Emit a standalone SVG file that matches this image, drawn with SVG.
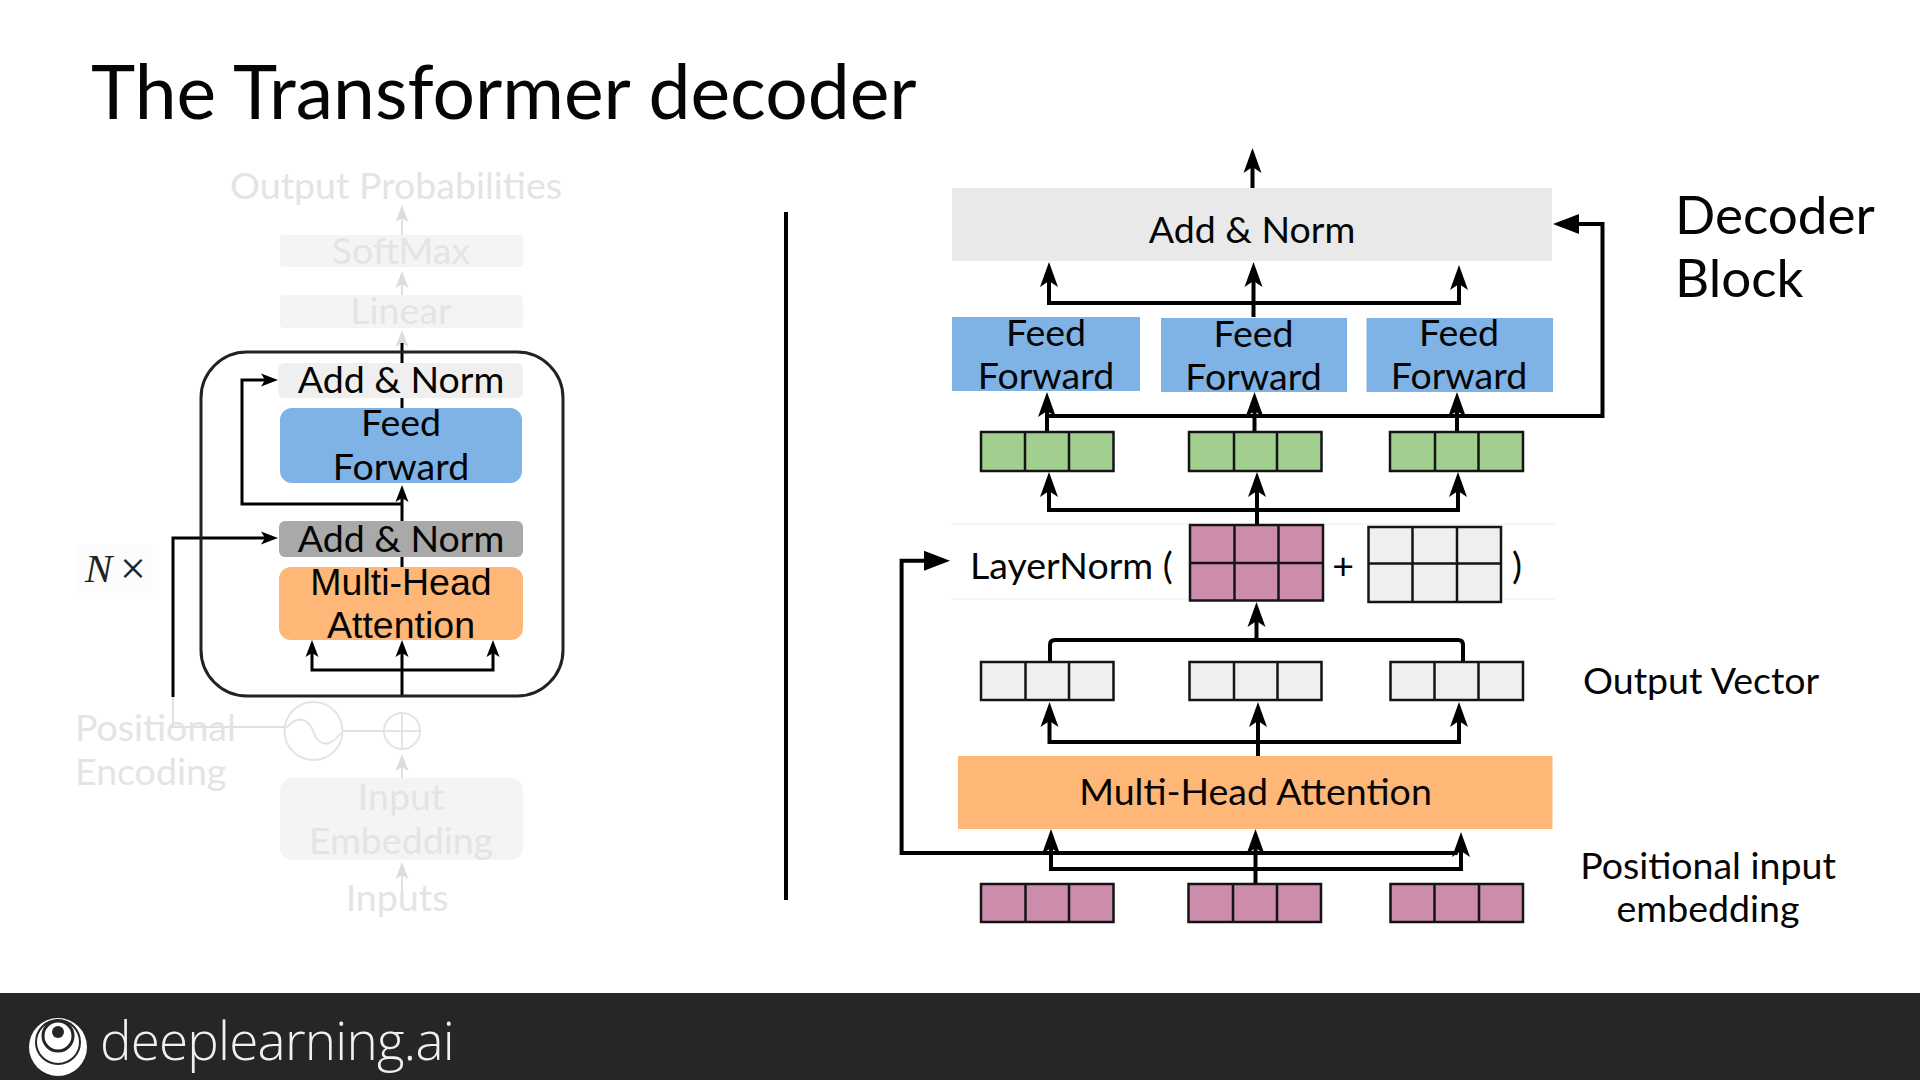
<svg xmlns="http://www.w3.org/2000/svg" width="1920" height="1080" viewBox="0 0 1920 1080">
<defs>
<marker id="ab" markerUnits="userSpaceOnUse" markerWidth="26" markerHeight="20" refX="16" refY="10" orient="auto"><path d="M0,1 L25,10 L0,19 L6,10z" fill="#000"/></marker>
<marker id="as" markerUnits="userSpaceOnUse" markerWidth="18" markerHeight="16" refX="11" refY="8" orient="auto"><path d="M0,1.5 L17,8 L0,14.5 L4,8z" fill="#000"/></marker>
<marker id="ag" markerUnits="userSpaceOnUse" markerWidth="18" markerHeight="16" refX="11" refY="8" orient="auto"><path d="M0,1.5 L17,8 L0,14.5 L4,8z" fill="#dcdcdc"/></marker>
<marker id="af" markerUnits="userSpaceOnUse" markerWidth="28" markerHeight="22" refX="8" refY="11" orient="auto"><path d="M0,1 L26,11 L0,21z" fill="#000"/></marker>
</defs>
<style>
text{font-family:Lato,"Liberation Sans",sans-serif;fill:#050505}
.m{text-anchor:middle}
.s{font-size:37.500px}
.ar{font-family:"Liberation Sans",Arial,sans-serif}
.f text{fill:#e4e4e4}
.c path{fill:none;stroke:#000}
.k path{stroke-width:3;marker-end:url(#as)}
.g path{stroke:#e0e0e0;stroke-width:2}
.g .a{marker-end:url(#ag)}
.r path{stroke-width:4}
.r .a{marker-end:url(#ab)}
.r .t{marker-end:url(#af)}
.grid{stroke:#141414;stroke-width:2.500}
.grn{fill:#a1cf8f}.pnk{fill:#cc8dad}.gry{fill:#efefef}
.ff{fill:#7fb3e6}.mh{fill:#ffb777}
</style>
<rect width="1920" height="1080" fill="#fff"/>
<g id="connectors">
<g class="c g">
<path class="a" d="M402 238V211"/>
<path class="a" d="M402 296V277"/>
<path class="a" d="M402 350V336"/>
<path d="M173 697V727H285M342 731H384"/>
<path class="a" d="M402 778V760"/>
<path class="a" d="M402 895V868"/>
</g>
<g class="c k">
<path style="marker-end:none" d="M402 363V343"/>
<path style="marker-end:none" d="M402 398V408"/>
<path d="M402 521V491"/>
<path d="M402 504H242V380H272"/>
<path style="marker-end:none" d="M402 556V567"/>
<path d="M173 697V538H272"/>
<path d="M402 697V646"/>
<path d="M402 670H312V646"/>
<path d="M402 670H493V646"/>
</g>
<g class="c r">
<path class="a" d="M1252.500 189V157"/>
<path class="a" d="M1253.500 317V271"/>
<path class="a" d="M1253.500 303H1049V271"/>
<path class="a" d="M1253.500 303H1459V274"/>
<path class="a" d="M1047 432V401"/>
<path class="a" d="M1254.500 432V401"/>
<path class="a" d="M1457 432V401"/>
<path class="t" d="M1047 416H1602.500V224H1571"/>
<path class="a" d="M1257 525V481"/>
<path class="a" d="M1257 510H1049V481"/>
<path class="a" d="M1257 510H1458V481"/>
<path class="a" d="M1256.500 640V611"/>
<path d="M1050 662V645Q1050 640 1055 640H1458Q1463 640 1463 645V662" style="marker-end:none"/>
<path class="a" d="M1258 756V711"/>
<path class="a" d="M1258 742H1049.500V711"/>
<path class="a" d="M1258 742H1459V711"/>
<path class="a" d="M1255.500 883V838"/>
<path class="a" d="M1255.500 869H1051V838"/>
<path class="a" d="M1255.500 869H1461V841"/>
<path class="t" d="M1457.600 853H901.600V560.700H932"/>
</g>
</g>
<g id="title"><text x="91" y="119" font-size="75">The Transformer decoder</text></g>
<rect id="divider" x="784" y="212" width="4" height="688" fill="#000"/>
<g id="output-probabilities" class="f"><text class="m s" x="396" y="199">Output Probabilities</text></g>
<g id="softmax" class="f"><rect x="280" y="235" width="243" height="32" rx="4" fill="#f4f4f4"/><text class="m s" x="401" y="264">SoftMax</text></g>
<g id="linear" class="f"><rect x="280" y="295" width="243" height="33" rx="4" fill="#f4f4f4"/><text class="m s" x="401" y="324">Linear</text></g>
<g id="decoder-frame"><rect x="201" y="352" width="362" height="344" rx="46" fill="none" stroke="#222" stroke-width="3"/></g>
<g id="add-norm-top"><rect x="278" y="363" width="245" height="35" rx="6" fill="#efefef"/><text class="m s" x="401" y="393">Add &amp; Norm</text></g>
<g id="feed-forward-left"><rect x="280" y="408" width="242" height="75" rx="12" class="ff"/><text class="m s" x="401" y="436">Feed</text><text class="m s" x="401" y="480">Forward</text></g>
<g id="add-norm-mid"><rect x="279" y="521" width="244" height="36" rx="6" fill="#a9a9a9"/><text class="m s" x="401" y="552">Add &amp; Norm</text></g>
<g id="multi-head-left"><rect x="279" y="567" width="244" height="73" rx="12" class="mh"/><text class="m s ar" x="401" y="595">Multi-Head</text><text class="m s ar" x="401" y="638">Attention</text></g>
<g id="n-times"><rect x="77" y="545" width="76" height="48" fill="#fcfcfc"/><text x="85" y="582" font-size="41" style="font-family:'Liberation Serif',serif;font-style:italic;fill:#222">N</text><text x="120" y="584" font-size="46" style="font-family:'Liberation Serif',serif;fill:#222">×</text></g>
<g id="positional-encoding" class="f"><text class="s" x="75" y="741">Positional</text><text class="s" x="75" y="785">Encoding</text></g>
<g id="sine"><circle cx="313.500" cy="731" r="29" fill="none" stroke="#e4e4e4" stroke-width="2"/><path d="M286 728C300 712 310 722 314 733S328 750 341 733" fill="none" stroke="#e4e4e4" stroke-width="2"/></g>
<g id="plus"><circle cx="402" cy="731" r="18" fill="none" stroke="#e4e4e4" stroke-width="2"/><path d="M384 731H420M402 713V749" fill="none" stroke="#e4e4e4" stroke-width="2"/></g>
<g id="input-embedding" class="f"><rect x="280" y="778" width="243" height="82" rx="12" fill="#f4f4f4"/><text class="m s" x="401" y="810">Input</text><text class="m s" x="401" y="854">Embedding</text></g>
<g id="inputs" class="f"><text class="m s" x="397" y="911">Inputs</text></g>

<g id="add-norm-big"><rect x="952" y="188" width="600" height="73" fill="#e9e9e9"/><text class="m s" x="1252" y="243">Add &amp; Norm</text></g>
<g id="ff-1"><rect x="952" y="317" width="188" height="74" class="ff"/><text class="m s" x="1046" y="346">Feed</text><text class="m s" x="1046" y="389">Forward</text></g>
<g id="ff-2"><rect x="1161" y="318" width="186" height="74" class="ff"/><text class="m s" x="1253.500" y="347">Feed</text><text class="m s" x="1253.500" y="390">Forward</text></g>
<g id="ff-3"><rect x="1366.500" y="318" width="186.500" height="74" class="ff"/><text class="m s" x="1459" y="346">Feed</text><text class="m s" x="1459" y="389">Forward</text></g>
<g id="green-1"><path class="grn grid" d="M981 432H1113.500V471H981zM1025 432V471M1069 432V471"/></g>
<g id="green-2"><path class="grn grid" d="M1189 432H1321.500V471H1189zM1234 432V471M1277 432V471"/></g>
<g id="green-3"><path class="grn grid" d="M1390 432H1523V471H1390zM1435 432V471M1478.500 432V471"/></g>
<g id="layernorm"><text class="s" x="970" y="579">LayerNorm (</text><text class="m s" x="1343" y="579">+</text><text class="m s" x="1517" y="579">)</text></g>
<g id="pink-matrix"><path class="pnk grid" d="M1190 525H1323V600.500H1190zM1234.500 525V600.500M1278.500 525V600.500M1190 563H1323"/></g>
<g id="grey-matrix"><path class="gry grid" d="M1368.500 527H1501V602H1368.500zM1412.500 527V602M1457 527V602M1368.500 563.500H1501"/></g>
<path d="M951 524H1188M1325 524H1555M951 599H1188M1503 599H1555" stroke="#f6f6f6" stroke-width="2" fill="none"/>
<g id="grey-1"><path class="gry grid" d="M981 662H1113.500V700H981zM1025.500 662V700M1069 662V700"/></g>
<g id="grey-2"><path class="gry grid" d="M1189.500 662H1321.500V700H1189.500zM1234 662V700M1277.500 662V700"/></g>
<g id="grey-3"><path class="gry grid" d="M1390.500 662H1523V700H1390.500zM1434.500 662V700M1478.500 662V700"/></g>
<g id="mha-right"><rect x="958" y="756" width="594.500" height="73" class="mh"/><text class="m s" x="1255.500" y="805">Multi-Head Attention</text></g>
<g id="pink-1"><path class="pnk grid" d="M981 884H1113.500V922H981zM1025.500 884V922M1069 884V922"/></g>
<g id="pink-2"><path class="pnk grid" d="M1188.500 884H1321V922H1188.500zM1233 884V922M1277 884V922"/></g>
<g id="pink-3"><path class="pnk grid" d="M1390.500 884H1523V922H1390.500zM1434.500 884V922M1479 884V922"/></g>
<g id="decoder-block-label"><text x="1675" y="234" font-size="53">Decoder</text><text x="1675" y="297" font-size="53">Block</text></g>
<g id="output-vector-label"><text class="s" x="1583" y="694">Output Vector</text></g>
<g id="positional-input-label"><text class="m s" x="1708" y="879">Positional input</text><text class="m s" x="1708" y="922">embedding</text></g>
<g id="footer"><rect y="993" width="1920" height="87" fill="#262626"/>
<circle cx="58" cy="1047" r="29" fill="#fff"/><circle cx="58" cy="1042" r="22" fill="none" stroke="#262626" stroke-width="2"/><circle cx="58" cy="1036" r="15" fill="none" stroke="#262626" stroke-width="3"/><circle cx="58" cy="1032" r="6" fill="#262626"/>
<text x="100" y="1060" font-size="53" letter-spacing="-0.8" style="font-family:'Open Sans',sans-serif;font-weight:300;fill:#f0f0f0">deeplearning.ai</text></g>
</svg>
